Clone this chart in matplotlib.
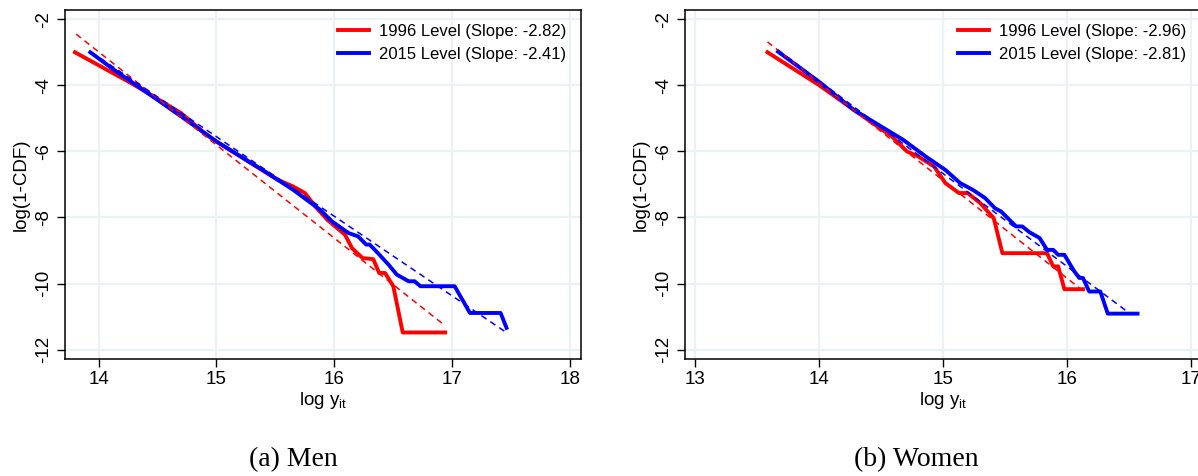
import matplotlib
matplotlib.use("Agg")
import matplotlib.pyplot as plt
import numpy as np

plt.rcParams['font.family'] = ['Liberation Sans', 'DejaVu Sans']
plt.rcParams['mathtext.fontset'] = 'custom'
plt.rcParams['mathtext.rm'] = 'Liberation Sans'

# Men: empirical log(1-CDF) against log income
men_x_1996 = [13.80, 14.28, 14.70, 14.90, 15.00, 15.29, 15.52, 15.65, 15.75, 15.84,
              15.94, 16.04, 16.09, 16.15, 16.24, 16.33, 16.38, 16.43, 16.50, 16.58, 16.94]
men_y_1996 = [-3.00, -3.94, -4.84, -5.45, -5.70, -6.35, -6.86, -7.06, -7.26, -7.67,
              -8.07, -8.37, -8.52, -8.93, -9.23, -9.26, -9.68, -9.68, -10.08, -11.48, -11.48]
men_x_2015 = [13.93, 14.15, 14.38, 14.70, 15.00, 15.39, 15.65, 15.88, 15.98, 16.04,
              16.12, 16.20, 16.27, 16.30, 16.37, 16.46, 16.53, 16.63, 16.68, 16.73,
              17.02, 17.07, 17.15, 17.41, 17.46]
men_y_2015 = [-3.00, -3.58, -4.14, -4.94, -5.70, -6.56, -7.16, -7.77, -8.12, -8.27,
              -8.47, -8.57, -8.82, -8.82, -9.08, -9.43, -9.73, -9.93, -9.93, -10.08,
              -10.08, -10.39, -10.89, -10.89, -11.34]

# Women
women_x_1996 = [13.585, 14.00, 14.28, 14.59, 14.71, 14.80, 14.93, 15.02, 15.13, 15.20,
                15.30, 15.41, 15.48, 15.84, 15.89, 15.93, 15.98, 16.13]
women_y_1996 = [-3.00, -3.99, -4.74, -5.55, -6.00, -6.15, -6.46, -6.96, -7.26, -7.26,
                -7.56, -8.02, -9.08, -9.08, -9.48, -9.48, -10.17, -10.17]
women_x_2015 = [13.67, 14.00, 14.28, 14.68, 14.86, 15.02, 15.14, 15.24, 15.34, 15.42,
                15.47, 15.59, 15.64, 15.70, 15.78, 15.84, 15.89, 15.93, 15.98, 16.06,
                16.10, 16.13, 16.18, 16.27, 16.33, 16.57]
women_y_2015 = [-2.98, -3.89, -4.74, -5.65, -6.15, -6.56, -6.96, -7.16, -7.41, -7.72,
                -7.82, -8.27, -8.27, -8.45, -8.62, -8.98, -8.98, -9.13, -9.13, -9.63,
                -9.83, -9.83, -10.24, -10.24, -10.91, -10.91]

# fitted Pareto slopes, with the x-range and one anchor point of each fit line
men_slopes = [-2.82, -2.41]
men_fit_x = [(13.81, 16.92), (13.94, 17.47)]
men_fit_anchor = [(13.81, -2.45), (13.94, -3.00)]
women_slopes = [-2.96, -2.81]
women_fit_x = [(13.585, 16.14), (13.67, 16.52)]
women_fit_anchor = [(14.86, -6.46), (15.095, -6.935)]

years = ['1996', '2015']
colors = ['#ff0000', '#0000ff']
yticks = [-2, -4, -6, -8, -10, -12]

panels = [
    dict(xs=[men_x_1996, men_x_2015], ys=[men_y_1996, men_y_2015], slopes=men_slopes,
         fit_x=men_fit_x, anchor=men_fit_anchor, xticks=[14, 15, 16, 17, 18],
         xlim=(13.716, 18.09), caption='(a) Men', cap_x=0.245),
    dict(xs=[women_x_1996, women_x_2015], ys=[women_y_1996, women_y_2015], slopes=women_slopes,
         fit_x=women_fit_x, anchor=women_fit_anchor, xticks=[13, 14, 15, 16, 17],
         xlim=(12.92, 17.08), caption='(b) Women', cap_x=0.765),
]

fig = plt.figure(figsize=(11.98, 4.76), dpi=100)
lefts = [0.0543, 0.5718]

for left, p in zip(lefts, panels):
    ax = fig.add_axes([left, 0.246, 0.4305, 0.733])
    handles = []
    for i in range(2):
        h, = ax.plot(p['xs'][i], p['ys'][i], color=colors[i], lw=2.8,
                     solid_joinstyle='round', zorder=3,
                     label='%s Level (Slope: %.2f)' % (years[i], p['slopes'][i]))
        handles.append(h)
        x0, x1 = p['fit_x'][i]
        ax_, ay_ = p['anchor'][i]
        fx = np.array([x0, x1])
        fy = ay_ + p['slopes'][i] * (fx - ax_)
        ax.plot(fx, fy, color=colors[i], lw=1.1, ls=(0, (4, 3)), zorder=4)

    ax.set_xlim(*p['xlim'])
    ax.set_ylim(-12.28, -1.72)
    ax.set_xticks(p['xticks'])
    ax.set_yticks(yticks)
    ax.set_yticklabels([str(t) for t in yticks], rotation=90, va='center')
    ax.grid(True, color='#eaf2f3', lw=1.6)
    ax.set_axisbelow(True)
    ax.tick_params(direction='out', length=6, width=1, labelsize=13.5, pad=3)
    for s in ax.spines.values():
        s.set_linewidth(1.1)
        s.set_color('black')
    ax.set_xlabel(r'log y$_{\rm it}$', fontsize=13.5, labelpad=1)
    ax.set_ylabel('log(1-CDF)', fontsize=13.5, labelpad=4)
    ax.legend(handles=handles, loc='upper right', frameon=False, fontsize=12,
              handlelength=1.9, handletextpad=0.6, labelspacing=0.45,
              borderaxespad=0.45)
    fig.text(p['cap_x'], 0.02, p['caption'], ha='center',
             fontsize=20, family='Liberation Serif')

fig.savefig('out.png', dpi=100)
